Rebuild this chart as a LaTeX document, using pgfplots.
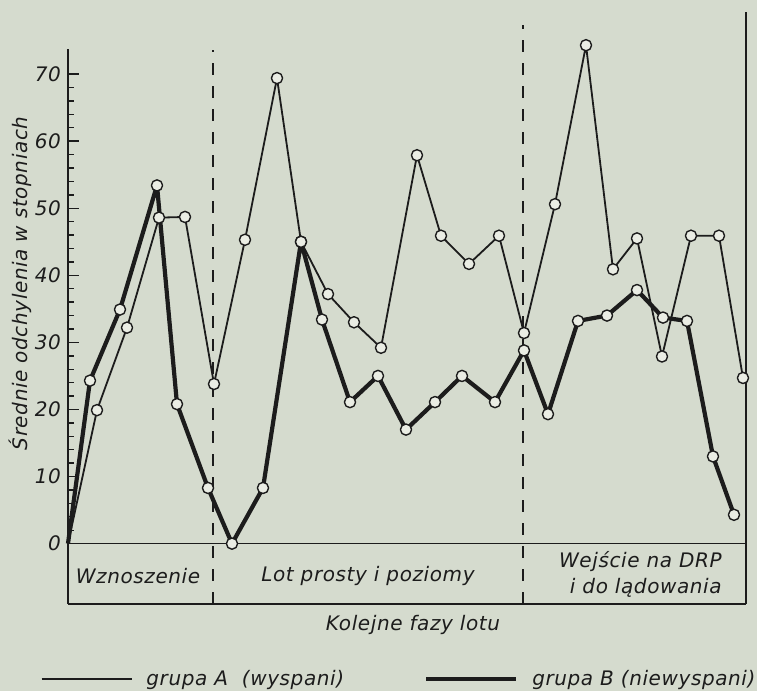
\documentclass[border=0pt]{standalone}
\usepackage{pgfplots}
\pgfplotsset{compat=1.18}
\usepackage{fontspec}
\setmainfont{DejaVu Sans}[LetterSpace=3]
\definecolor{paper}{RGB}{213,219,206}
\definecolor{ink}{RGB}{28,28,28}
\definecolor{dotfill}{RGB}{234,237,228}

\begin{document}
\begin{tikzpicture}
\path[use as bounding box, fill=paper] (0,0) rectangle (378.5pt,345.5pt);
\begin{axis}[
  at={(34pt,43.5pt)}, anchor=south west,
  scale only axis, width=339pt, height=298.5pt,
  xmin=0, xmax=678, ymin=-9, ymax=80,
  clip=false,
  axis x line=none, axis y line*=left,
  y axis line style={draw=none},
  ytick={0,10,...,70}, minor ytick={2,4,6,8,12,14,16,18,22,24,26,28,32,34,36,38,42,44,46,48,52,54,56,58,62,64,66,68},
  tick align=inside,
  major tick length=5.5pt, minor tick length=3pt,
  tick style={ink, line width=0.7pt},
  /pgf/number format/assume math mode=true,
  yticklabel style={font=\itshape, text=ink},
  font=\itshape,
  legend columns=2,
  legend style={at={(axis description cs:-0.041,-0.1256)}, anchor=west,
    draw=none, fill=none, inner sep=0pt, text=ink,
    /tikz/every odd column/.append style={column sep=5pt},
    /tikz/every even column/.append style={column sep=38pt}},
  legend image code/.code={\draw[#1,mark=none] (0pt,0pt) -- (45pt,0pt);},
  every axis plot/.append style={ink, line join=round, mark=*, mark phase=2, mark repeat=1,
    mark size=2.8pt, mark options={fill=dotfill, draw=ink, line width=0.7pt, solid}},
]
% frame of the chart
\draw[ink, line width=0.75pt] (axis cs:0,-9) -- (axis cs:0,73.7);
\draw[ink, line width=0.75pt] (axis cs:678,-9) -- (axis cs:678,79.3);
\draw[ink, line width=0.75pt] (axis cs:0,-9) -- (axis cs:678,-9);
\draw[ink, line width=0.75pt] (axis cs:0,0) -- (axis cs:678,0);
\draw[ink, line width=0.7pt, dash pattern=on 6pt off 5.5pt] (axis cs:145,-9) -- (axis cs:145,73.6);
\draw[ink, line width=0.7pt, dash pattern=on 6pt off 5.5pt] (axis cs:455,-9) -- (axis cs:455,77.3);

% grupa A (thin)
\addplot[line width=0.9pt] coordinates {
  (0,0) (29,19.9) (59,32.2) (91,48.6) (117,48.7) (146,23.8) (177,45.3)
  (209,69.4) (233,45.0) (260,37.2) (286,33.0) (313,29.2) (349,57.9)
  (373,45.9) (401,41.7) (431,45.9) (456,31.4) (487,50.6) (518,74.3)
  (545,40.9) (569,45.5) (594,27.9) (623,45.9) (651,45.9) (675,24.7)};
\addlegendentry{grupa A\ \ (wyspani)}
% grupa B (thick)
\addplot[line width=2.1pt] coordinates {
  (0,0) (22,24.3) (52,34.9) (89,53.4) (109,20.8) (140,8.3) (164,0)
  (195,8.3) (233,45.0) (254,33.4) (282,21.1) (310,25.0) (338,17.0)
  (367,21.1) (394,25.0) (427,21.1) (456,28.8) (480,19.3) (510,33.2)
  (539,34.0) (569,37.8) (595,33.7) (619,33.2) (645,13.0) (666,4.3)};
\addlegendentry{grupa B (niewyspani)}

% phase labels and axis titles
\node[text=ink] at (axis cs:70,-4.8) {Wznoszenie};
\node[text=ink] at (axis cs:300,-4.8) {Lot prosty i poziomy};
\node[text=ink, align=right, anchor=east, inner sep=0pt] at (axis cs:654,-4.6) {Wejście na DRP\\[1pt]i do lądowania};
\node[text=ink] at (axis cs:345,-12.1) {Kolejne fazy lotu};
\node[text=ink, rotate=90] at (axis cs:-48,38.8) {Średnie odchylenia w stopniach};
\end{axis}
\end{tikzpicture}
\end{document}
